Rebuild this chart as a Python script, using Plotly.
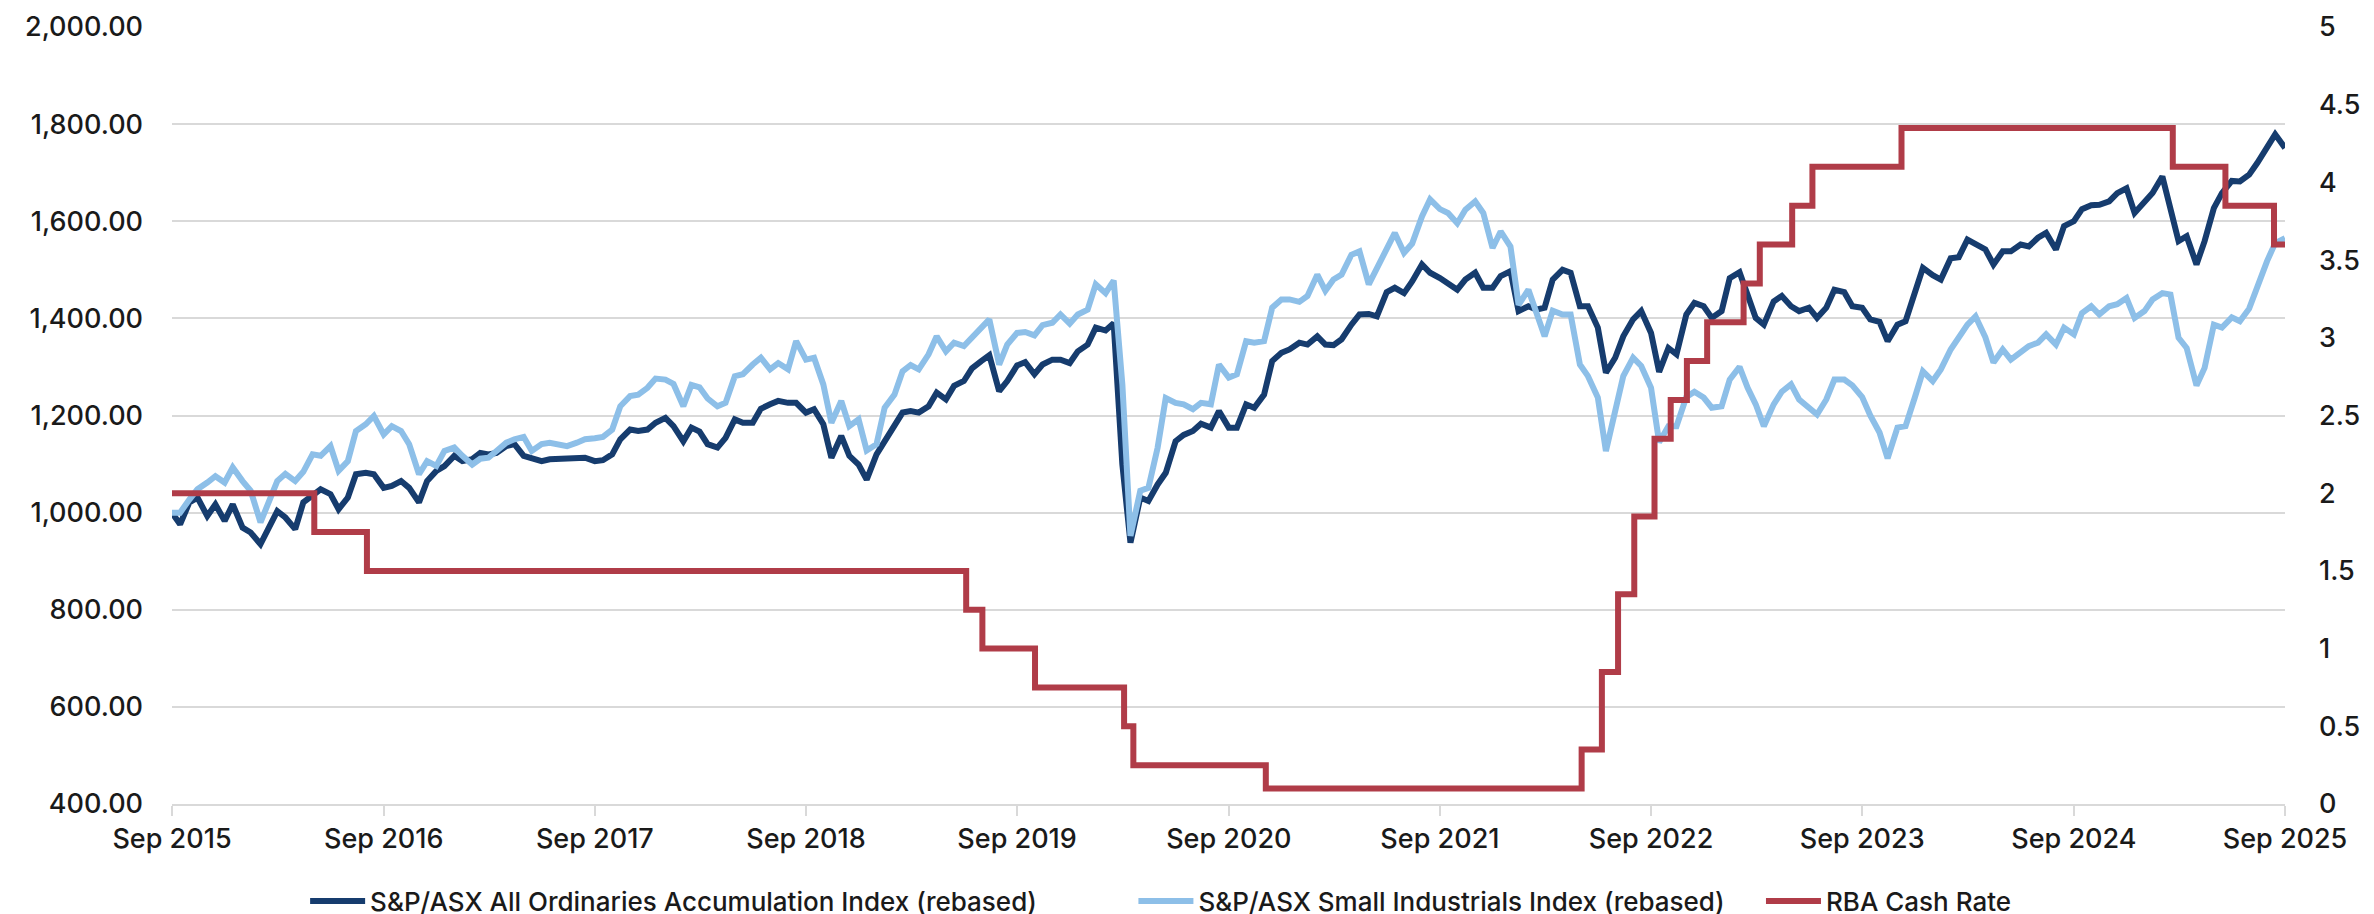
import plotly.graph_objects as go

# Semi-monthly observation dates (1st and 15th of each month), Sep 2015 .. Sep 2025
dates = []
for m in range(120):
    y = 2015 + (8 + m) // 12
    mo = (8 + m) % 12 + 1
    dates.append(f"{y}-{mo:02d}-01")
    dates.append(f"{y}-{mo:02d}-15")
dates.append("2025-09-01")

all_ords = [
    1000, 976, 1021, 1031, 993, 1017, 983, 1017, 969, 959,
    935, 969, 1003, 990, 966, 1021, 1034, 1048, 1038, 1007,
    1031, 1079, 1082, 1079, 1051, 1055, 1065, 1051, 1021, 1065,
    1086, 1096, 1117, 1106, 1110, 1123, 1120, 1123, 1137, 1141,
    1117, 1113, 1106, 1110, 1110, 1110, 1110, 1113, 1106, 1108,
    1120, 1151, 1171, 1168, 1171, 1185, 1195, 1178, 1147, 1175,
    1167, 1141, 1134, 1154, 1192, 1185, 1185, 1214, 1223, 1230,
    1226, 1226, 1206, 1213, 1182, 1113, 1158, 1117, 1099, 1068,
    1120, 1147, 1178, 1206, 1209, 1206, 1219, 1247, 1233, 1261,
    1271, 1297, 1312, 1324, 1250, 1271, 1303, 1310, 1285, 1305,
    1315, 1315, 1308, 1332, 1346, 1381, 1375, 1390, 1099, 938,
    1031, 1024, 1058, 1082, 1147, 1160, 1168, 1183, 1175, 1209,
    1175, 1175, 1223, 1216, 1243, 1312, 1329, 1336, 1350, 1346,
    1363, 1346, 1345, 1357, 1387, 1408, 1409, 1404, 1454, 1463,
    1452, 1476, 1511, 1494, 1483, 1473, 1459, 1480, 1494, 1463,
    1463, 1487, 1497, 1415, 1425, 1418, 1422, 1480, 1500, 1494,
    1425, 1425, 1381, 1288, 1319, 1363, 1398, 1415, 1370, 1290,
    1339, 1326, 1408, 1432, 1425, 1401, 1415, 1483, 1495, 1448,
    1401, 1387, 1435, 1446, 1425, 1415, 1422, 1401, 1422, 1459,
    1454, 1425, 1422, 1398, 1393, 1353, 1387, 1394, 1449, 1504,
    1489, 1480, 1524, 1526, 1562, 1552, 1542, 1511, 1538, 1538,
    1552, 1548, 1566, 1576, 1542, 1590, 1600, 1625, 1633, 1634,
    1641, 1658, 1668, 1617, 1641, 1658, 1692, 1624, 1559, 1569,
    1511, 1559, 1627, 1658, 1683, 1682, 1696, 1720, 1754, 1779,
    1751,
]

small_ind = [
    1000, 1000, 1027, 1048, 1062, 1075, 1062, 1093, 1065, 1045,
    980, 1021, 1065, 1080, 1065, 1084, 1120, 1117, 1137, 1086,
    1106, 1168, 1182, 1199, 1161, 1178, 1168, 1141, 1079, 1106,
    1096, 1127, 1134, 1117, 1099, 1111, 1113, 1127, 1144, 1151,
    1156, 1127, 1141, 1144, 1141, 1137, 1144, 1151, 1153, 1156,
    1171, 1219, 1240, 1243, 1257, 1276, 1274, 1265, 1219, 1263,
    1258, 1235, 1219, 1226, 1281, 1285, 1305, 1319, 1295, 1308,
    1295, 1353, 1315, 1319, 1264, 1185, 1230, 1178, 1192, 1128,
    1141, 1216, 1243, 1291, 1304, 1295, 1326, 1363, 1332, 1350,
    1343, 1360, 1381, 1398, 1305, 1346, 1370, 1372, 1365, 1386,
    1391, 1408, 1389, 1408, 1418, 1470, 1452, 1478, 1264, 952,
    1045, 1051, 1134, 1236, 1226, 1223, 1213, 1226, 1223, 1305,
    1278, 1285, 1353, 1350, 1353, 1422, 1439, 1439, 1434, 1446,
    1490, 1457, 1480, 1490, 1531, 1538, 1470, 1504, 1548, 1576,
    1535, 1554, 1610, 1645, 1625, 1617, 1596, 1624, 1641, 1617,
    1545, 1579, 1548, 1428, 1459, 1415, 1363, 1416, 1408, 1408,
    1305, 1281, 1237, 1127, 1209, 1281, 1319, 1302, 1257, 1145,
    1178, 1178, 1238, 1249, 1237, 1216, 1219, 1274, 1300, 1257,
    1223, 1178, 1223, 1249, 1264, 1233, 1216, 1202, 1233, 1274,
    1274, 1262, 1238, 1200, 1165, 1112, 1175, 1178, 1237, 1291,
    1271, 1295, 1336, 1359, 1387, 1404, 1361, 1309, 1336, 1315,
    1329, 1343, 1350, 1367, 1346, 1381, 1367, 1411, 1425, 1408,
    1425, 1429, 1442, 1401, 1415, 1439, 1452, 1449, 1360, 1339,
    1262, 1298, 1387, 1381, 1402, 1394, 1420, 1465, 1518, 1555,
    1565,
]

rba_dates = [
    "2015-09-01", "2016-05-04", "2016-08-03", "2019-06-05", "2019-07-03",
    "2019-10-02", "2020-03-04", "2020-03-20", "2020-11-04", "2022-05-04",
    "2022-06-08", "2022-07-06", "2022-08-03", "2022-09-07", "2022-10-05",
    "2022-11-02", "2022-12-07", "2023-02-08", "2023-03-08", "2023-05-03",
    "2023-06-07", "2023-11-08", "2025-02-19", "2025-05-21", "2025-08-13",
    "2025-09-01",
]
rba_rate = [
    2.0, 1.75, 1.5, 1.25, 1.0, 0.75, 0.5, 0.25, 0.1, 0.35,
    0.85, 1.35, 1.85, 2.35, 2.6, 2.85, 3.1, 3.35, 3.6, 3.85,
    4.1, 4.35, 4.1, 3.85, 3.6, 3.6,
]

names = [
    "S&P/ASX All Ordinaries Accumulation Index (rebased)",
    "S&P/ASX Small Industrials Index (rebased)",
    "RBA Cash Rate",
]
colors = ["#163c6e", "#8dbfe8", "#b03c48"]

n = min(len(dates), len(all_ords), len(small_ind))

fig = go.Figure()
fig.add_trace(go.Scatter(x=dates[:n], y=all_ords[:n], name=names[0], mode="lines",
                         line=dict(color=colors[0], width=6), legend="legend"))
fig.add_trace(go.Scatter(x=dates[:n], y=small_ind[:n], name=names[1], mode="lines",
                         line=dict(color=colors[1], width=6), legend="legend2"))
fig.add_trace(go.Scatter(x=rba_dates, y=rba_rate, name=names[2], mode="lines",
                         line=dict(color=colors[2], width=6, shape="hv"),
                         yaxis="y2", legend="legend3"))

FONT = "Inter"
grid = "#d9d9d9"
txt = "#1a1a1a"
tickfont = dict(family=FONT, size=27, color=txt, weight=500)

leg_common = dict(orientation="h", yanchor="middle", y=-0.125, xanchor="left",
                  itemwidth=55,
                  font=dict(family=FONT, size=26, color=txt, weight=500),
                  bgcolor="rgba(0,0,0,0)")

fig.update_layout(
    width=2374, height=914,
    margin=dict(l=164, r=97, t=19, b=118, autoexpand=False),
    paper_bgcolor="white", plot_bgcolor="white",
    font=dict(family=FONT, size=27, color=txt),
    showlegend=True,
    legend=dict(x=0.063, **leg_common),
    legend2=dict(x=0.455, **leg_common),
    legend3=dict(x=0.752, **leg_common),
    xaxis=dict(
        type="date", range=["2015-09-01", "2025-09-01"],
        tick0="2015-09-01", dtick="M12", tickformat="%b %Y",
        showgrid=False, showline=True, linecolor=grid, linewidth=2,
        ticks="outside", ticklen=10, tickcolor=grid, tickwidth=2,
        ticklabelstandoff=0,
        tickfont=tickfont,
        zeroline=False,
    ),
    yaxis=dict(
        range=[400, 2000], dtick=200, tickformat=",.2f",
        showgrid=True, gridcolor=grid, gridwidth=2,
        zeroline=False, showline=False, ticks="",
        ticklabelstandoff=28,
        tickfont=tickfont,
    ),
    yaxis2=dict(
        range=[0, 5], dtick=0.5, overlaying="y", side="right",
        showgrid=False, zeroline=False, showline=False, ticks="",
        ticklabelstandoff=33,
        tickfont=tickfont,
    ),
)

fig.write_html("out.html")
